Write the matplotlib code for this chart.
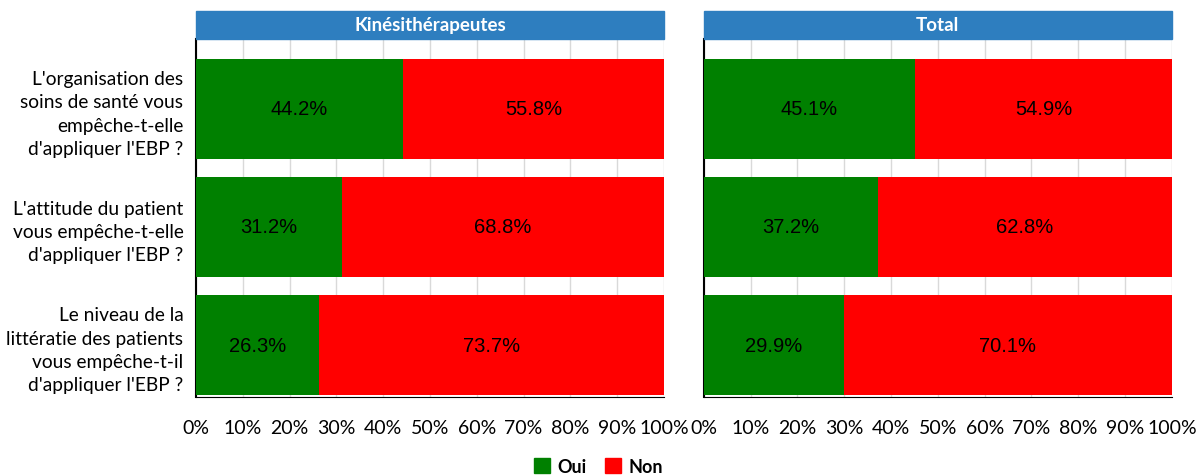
import numpy as np
import matplotlib.pyplot as plt
from matplotlib.patches import Patch

questions = ["L'organisation des\nsoins de santé vous\nempêche-t-elle\nd'appliquer l'EBP ?",
             "L'attitude du patient\nvous empêche-t-elle\nd'appliquer l'EBP ?",
             "Le niveau de la\nlittératie des patients\nvous empêche-t-il\nd'appliquer l'EBP ?"]
panels = ["Kinésithérapeutes", "Total"]
oui_kine = [44.2, 31.2, 26.3]
non_kine = [55.8, 68.8, 73.7]
oui_total = [45.1, 37.2, 29.9]
non_total = [54.9, 62.8, 70.1]
ticks = list(range(0, 101, 10))

green = '#008000'
red = '#ff0000'
header = '#2e7ebf'
fnt = 'Lato'

fig = plt.figure(figsize=(11.97, 4.77), dpi=100)
ax1 = fig.add_axes([0.1637, 0.1656, 0.391, 0.751])
ax2 = fig.add_axes([0.588, 0.1656, 0.391, 0.751])

y = np.arange(len(questions))
for ax, oui, non, title in [(ax1, oui_kine, non_kine, panels[0]),
                            (ax2, oui_total, non_total, panels[1])]:
    ax.barh(y, oui, height=0.85, color=green, zorder=3)
    ax.barh(y, non, left=oui, height=0.85, color=red, zorder=3)
    for i in range(len(y)):
        ax.text(oui[i] / 2, y[i], f"{oui[i]:.1f}%", ha='center', va='center',
                fontsize=14.5, family='Liberation Sans', zorder=4)
        ax.text(oui[i] + non[i] / 2, y[i], f"{non[i]:.1f}%", ha='center', va='center',
                fontsize=14.5, family='Liberation Sans', zorder=4)
    ax.set_xlim(0, 100)
    ax.set_ylim(2.44, -0.593)
    ax.set_xticks(ticks)
    ax.set_xticklabels([f"{t}%" for t in ticks], family=fnt, fontsize=14)
    ax.grid(axis='x', color='#d9d9d9', lw=1, zorder=0)
    for s in ['top', 'right']:
        ax.spines[s].set_visible(False)
    ax.spines['left'].set_color('black')
    ax.spines['bottom'].set_color('black')
    ax.spines['left'].set_linewidth(1.5)
    ax.tick_params(axis='x', length=0, pad=16)
    ax.tick_params(axis='y', length=0)
    # panel header strip
    pos = ax.get_position()
    fig.patches.append(plt.Rectangle((pos.x0, 0.916), pos.width, 0.059,
                                     transform=fig.transFigure, color=header))
    fig.text(pos.x0 + pos.width / 2, 0.9455, title, ha='center', va='center',
             color='white', fontsize=13.5, fontweight='bold', family=fnt)

ax1.set_yticks(y)
ax1.set_yticklabels(questions, family=fnt, fontsize=13.8, linespacing=1.45)
ax1.tick_params(axis='y', pad=9)
ax2.set_yticks([])

handles = [Patch(color=green, label='Oui'), Patch(color=red, label='Non')]
fig.legend(handles=handles, loc='center', bbox_to_anchor=(0.5, 0.02), ncol=2,
           frameon=False, prop={'family': fnt, 'weight': 'bold', 'size': 13},
           handlelength=0.9, handleheight=0.9, columnspacing=1.0, handletextpad=0.4)

fig.savefig('out.png', dpi=100)
